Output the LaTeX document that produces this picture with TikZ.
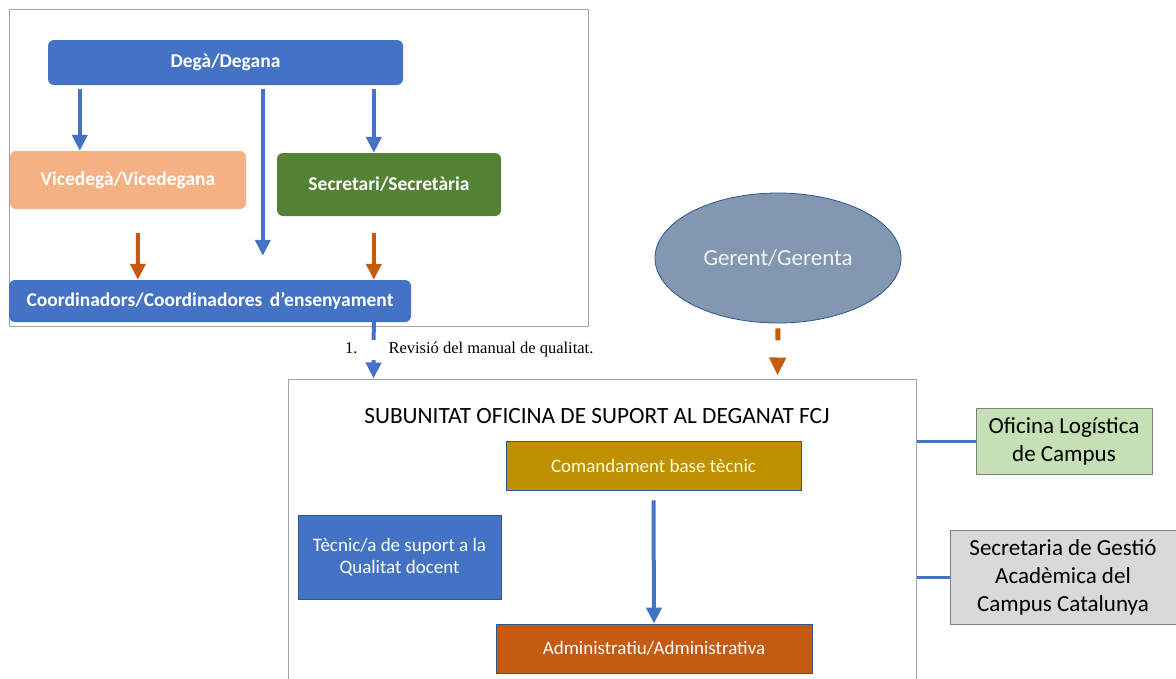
\documentclass[tikz,border=0pt]{standalone}
\usepackage{fontspec}
\setmainfont{Carlito}
\newfontfamily\revfont{Liberation Serif}
\usetikzlibrary{arrows.meta,shapes.geometric}
\definecolor{degblue}{HTML}{4472C4}
\definecolor{vicepeach}{HTML}{F4B183}
\definecolor{secgreen}{HTML}{548235}
\definecolor{adminorange}{HTML}{C55A11}
\definecolor{gerslate}{HTML}{8497B0}
\definecolor{edgeblue}{HTML}{2F5597}
\definecolor{baseochre}{HTML}{BF9000}
\definecolor{logigreen}{HTML}{C5E0B4}
\definecolor{gestgray}{HTML}{D9D9D9}
\definecolor{framegray}{HTML}{A6A6A6}

\begin{document}
\begin{tikzpicture}[x=1pt, y=-1pt, boss/.style={rounded corners=6pt, text=white, inner sep=0pt, font=\fontsize{19.5}{22}\selectfont\bfseries}, unitbox/.style={draw=edgeblue, line width=0.8pt, text=white, inner sep=0pt, align=center, font=\fontsize{19}{22}\selectfont}, sidebox/.style={draw=gray, line width=1pt, text=black, inner sep=0pt, align=center, font=\fontsize{23}{28}\selectfont}, bluedown/.style={degblue, line width=4pt, -{Triangle[length=16pt,width=15pt]}}, orangedown/.style={adminorange, line width=4pt, -{Triangle[length=16pt,width=15pt]}}, link/.style={degblue, line width=3pt}]
\useasboundingbox (0,0) rectangle (1176,678);
\draw[framegray, line width=1pt] (9,9) rectangle (588,326);
\node[boss, fill=degblue, minimum width=355pt, minimum height=45pt] (deg) at (225.5,62.5) {Degà/Degana};
\node[boss, fill=vicepeach, minimum width=236pt, minimum height=58pt] (vice) at (128,180) {Vicedegà/Vicedegana};
\node[boss, fill=secgreen, minimum width=224pt, minimum height=63pt] (secr) at (389,184.5) {Secretari/Secretària};
\node[boss, fill=degblue, minimum width=402pt, minimum height=42pt] (coord) at (210,301) {Coordinadors/Coordinadores\, d’ensenyament};
\draw[bluedown] ([xshift=32pt,yshift=-4pt]deg.south west) -- ([xshift=70pt]vice.north west);
\draw[bluedown] ([xshift=215pt,yshift=-4pt]deg.south west) -- ([xshift=254pt,yshift=24pt]coord.north west);
\draw[bluedown] ([xshift=326pt,yshift=-4pt]deg.south west) -- ([xshift=97pt]secr.north west);
\draw[orangedown] ([xshift=10pt,yshift=-24pt]vice.south) -- ([xshift=129pt]coord.north west);
\draw[orangedown] ([xshift=97pt,yshift=-17pt]secr.south west) -- ([xshift=365pt]coord.north west);
\node[draw=framegray, line width=1pt, minimum width=628pt, minimum height=310pt, inner sep=0pt] (sub) at (602,534) {};
\draw[bluedown] ([xshift=365pt]coord.south west) -- ([xshift=86pt]sub.north west);
\node[fill=white, anchor=west, inner xsep=3pt, inner ysep=3pt, font=\revfont\fontsize{16.5}{18}\selectfont] (rev) at (342,350) {1.\hspace{31pt}Revisió del manual de qualitat.};
\node[ellipse, draw=edgeblue, line width=0.8pt, fill=gerslate, text=white!95!black, minimum width=246pt, minimum height=130pt, inner sep=0pt, font=\fontsize{23}{28}\selectfont] (ger) at (778,258) {Gerent/Gerenta};
\draw[adminorange, line width=5pt, dash pattern=on 12pt off 40pt, -{Triangle[length=18pt,width=16pt]}] ([yshift=-5pt]ger.south) -- ([xshift=490pt,yshift=3pt]sub.north west);
\node[font=\fontsize{23.3}{28}\selectfont] (title) at (597,416) {SUBUNITAT OFICINA DE SUPORT AL DEGANAT FCJ};
\node[unitbox, fill=baseochre, text=yellow!15, minimum width=295pt, minimum height=49pt] (coman) at (653.5,465.5) {Comandament base tècnic};
\node[unitbox, fill=degblue, minimum width=203pt, minimum height=84pt] (tecn) at (399.5,557) {Tècnic/a de suport a la\\Qualitat docent};
\node[unitbox, fill=adminorange, minimum width=316pt, minimum height=49pt] (admin) at (654,648.5) {Administratiu/Administrativa};
\draw[bluedown] ([yshift=-10pt]coman.south) -- (admin.north);
\node[sidebox, fill=logigreen, minimum width=176pt, minimum height=66pt] (ofic) at (1064,441) {Oficina Logística\\de Campus};
\node[sidebox, fill=gestgray, minimum width=226pt, minimum height=94pt] (gest) at (1063,577) {Secretaria de Gestió\\Acadèmica del\\Campus Catalunya};
\draw[link] (sub.east |- ofic.west) -- (ofic.west);
\draw[link] (sub.east |- gest.west) -- (gest.west);
\end{tikzpicture}
\end{document}
